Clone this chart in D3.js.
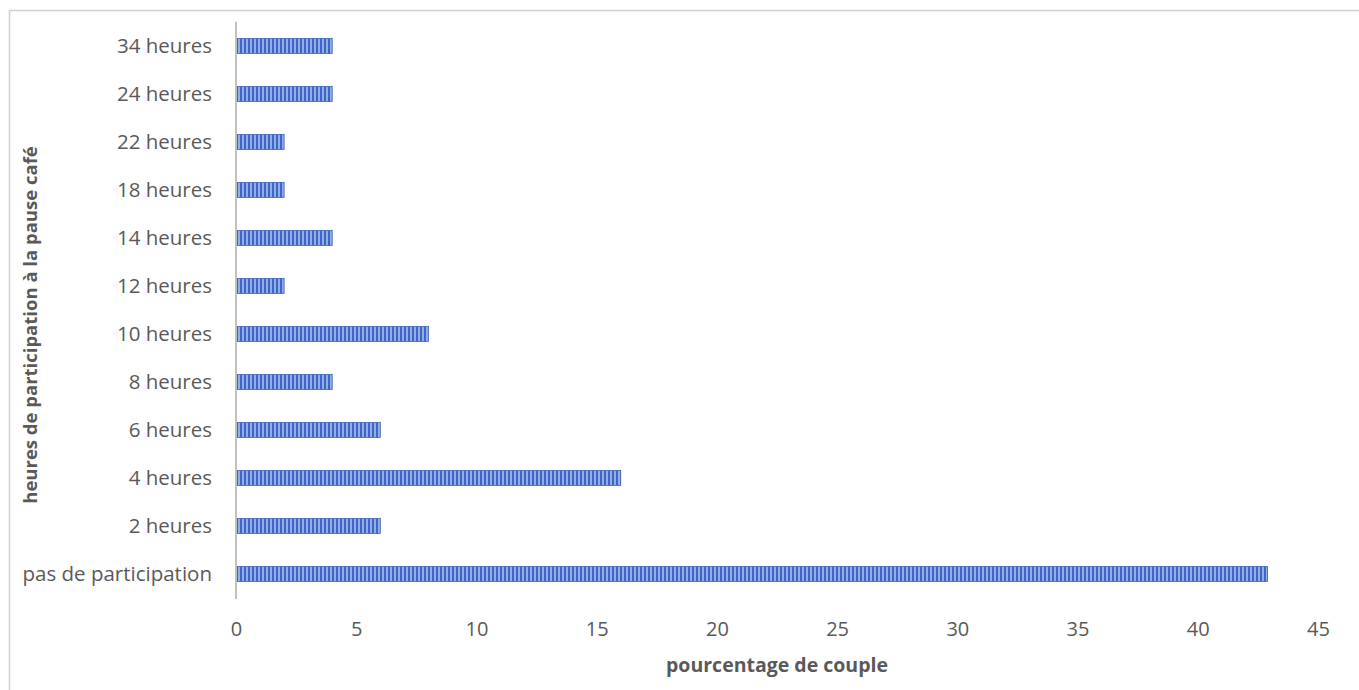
<!DOCTYPE html>
<html><head><meta charset="utf-8">
<script src="https://cdn.jsdelivr.net/npm/d3@7"></script>
<style>
body{margin:0;background:#fff;}
text{font-family:"Open Sans",Lato,sans-serif;fill:#595959;}
</style></head>
<body>
<svg id="chart" width="1359" height="690"></svg>
<script>
const categories = ["pas de participation","2 heures","4 heures","6 heures","8 heures","10 heures","12 heures","14 heures","18 heures","22 heures","24 heures","34 heures"];
const values = [42.9, 6, 16, 6, 4, 8, 2, 4, 2, 2, 4, 4];
const xTicks = [0,5,10,15,20,25,30,35,40,45];
const xTitle = "pourcentage de couple";
const yTitle = "heures de participation à la pause café";

const svg = d3.select("#chart");
svg.append("rect").attr("x",9.5).attr("y",10.5).attr("width",1360).attr("height",690)
  .attr("fill","#fff").attr("stroke","#d0d0d0").attr("stroke-width",1.5);

const defs = svg.append("defs");
const pat = defs.append("pattern").attr("id","stripes").attr("patternUnits","userSpaceOnUse")
  .attr("width",4).attr("height",10);
pat.append("rect").attr("width",4).attr("height",10).attr("fill","#92ade8");
pat.append("rect").attr("width",2).attr("height",10).attr("fill","#3d66c6");

const x = d3.scaleLinear().domain([0,45]).range([236,1318]);
const y = d3.scaleBand().domain(categories.slice().reverse()).range([22,598])
  .paddingInner(0.69).paddingOuter(0.345);

svg.selectAll(".bar").data(categories).enter().append("rect")
  .attr("class","bar")
  .attr("x",x(0))
  .attr("y",d=>y(d))
  .attr("width",(d,i)=>x(values[i])-x(0))
  .attr("height",y.bandwidth())
  .attr("fill","url(#stripes)")
  .attr("stroke","#3a5fb8").attr("stroke-width",0.8);

// y axis
const yAxis = svg.append("g").attr("transform",`translate(${x(0)},0)`)
  .call(d3.axisLeft(y).tickSize(0).tickPadding(24));
yAxis.select(".domain").remove();
yAxis.selectAll("text").style("font-size","20.5px").attr("fill","#595959");
svg.append("line").attr("x1",x(0)).attr("x2",x(0)).attr("y1",22).attr("y2",599)
  .attr("stroke","#bfbfbf").attr("stroke-width",2);

// x axis
const xAxis = svg.append("g").attr("transform","translate(0,598)")
  .call(d3.axisBottom(x).tickValues(xTicks).tickSize(0).tickPadding(24));
xAxis.select(".domain").remove();
xAxis.selectAll("text").style("font-size","20px").attr("fill","#595959");

svg.append("text").attr("x",777).attr("y",672).attr("text-anchor","middle")
  .style("font-size","19.5px").style("font-weight","bold").text(xTitle);
svg.append("text").attr("transform","translate(37,325) rotate(-90)").attr("text-anchor","middle")
  .style("font-size","18.5px").style("font-weight","bold").text(yTitle);
</script>
</body></html>
